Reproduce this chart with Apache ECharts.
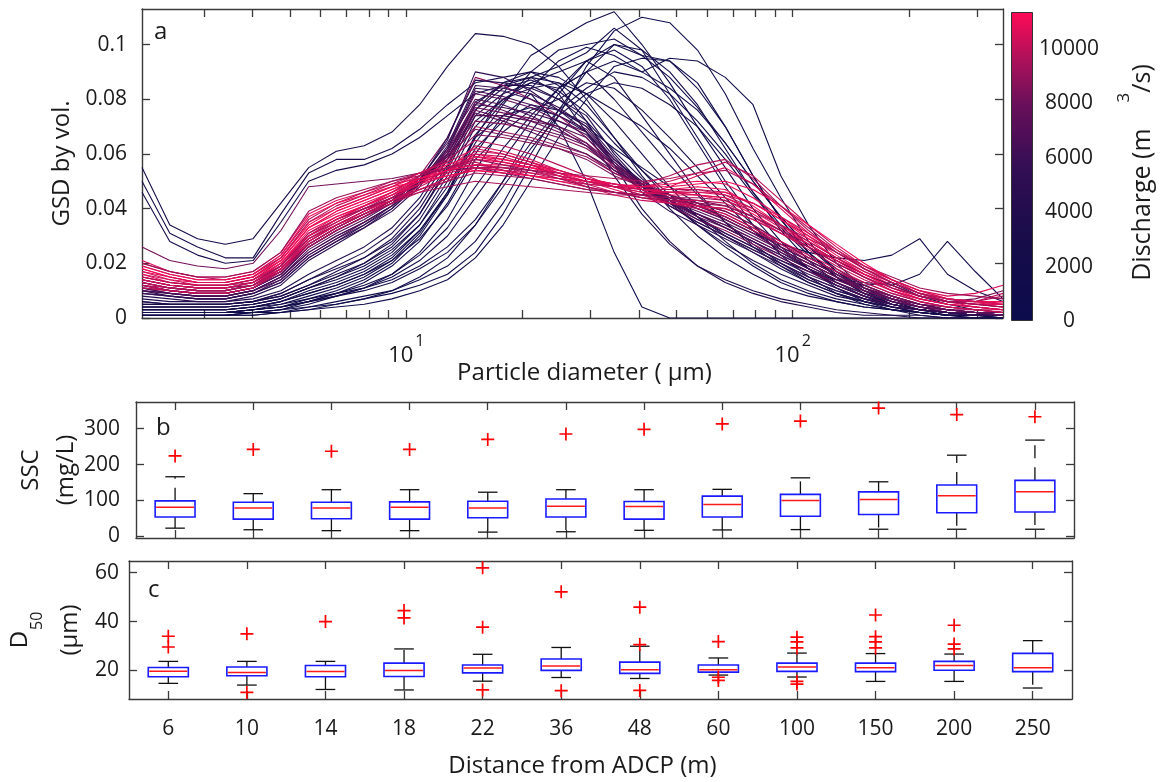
<!DOCTYPE html>
<html><head><meta charset="utf-8">
<script src="https://cdn.jsdelivr.net/npm/echarts@6/dist/echarts.min.js"></script>
<style>html,body{margin:0;padding:0;background:#fff}#chart{width:1161px;height:782px}</style>
</head><body><div id="chart"></div>
<script>
// ---------- data ----------
const sizes = [2.07,2.443,2.882,3.401,4.013,4.736,5.588,6.594,7.781,9.181,10.83,12.78,15.09,17.80,21.01,24.79,29.25,34.51,40.72,48.05,56.70,66.91,78.95,93.16,109.9,129.7,153.1,180.6,213.1,251.5,296.8,350.2];
const sizeTicks = [3,4,5,6,7,8,9,10,20,30,40,50,60,70,80,90,100,200,300];
const sizeLabels = [10,100];
const gsdTicks = [0,0.02,0.04,0.06,0.08,0.1];
const dischargeTicks = [0,2000,4000,6000,8000,10000];
const dischargeMax = 11360;

// high discharge (pink)
const gsdHigh = [
[.018,.015,.013,.013,.015,.022,.034,.040,.044,.048,.052,.056,.060,.058,.056,.053,.051,.049,.047,.046,.045,.043,.038,.032,.026,.020,.015,.010,.007,.005,.004,.003],
[.014,.012,.011,.011,.013,.020,.031,.037,.041,.045,.050,.054,.058,.057,.055,.052,.050,.048,.047,.047,.048,.047,.041,.034,.027,.021,.016,.012,.008,.006,.005,.006],
[.021,.017,.015,.015,.017,.024,.038,.043,.046,.049,.051,.053,.055,.054,.052,.050,.048,.046,.045,.048,.052,.055,.049,.040,.031,.024,.018,.014,.010,.008,.009,.012],
[.012,.010,.009,.009,.011,.018,.029,.035,.040,.044,.049,.054,.063,.061,.058,.054,.051,.048,.045,.043,.041,.038,.033,.028,.023,.018,.013,.009,.006,.004,.003,.002],
[.016,.014,.012,.012,.014,.021,.033,.039,.043,.047,.051,.055,.057,.054,.052,.051,.050,.049,.048,.050,.053,.057,.052,.043,.034,.026,.019,.014,.009,.006,.005,.004],
[.019,.016,.014,.014,.016,.022,.035,.041,.045,.049,.053,.058,.065,.063,.060,.056,.052,.048,.045,.042,.040,.037,.032,.027,.022,.017,.013,.009,.006,.004,.003,.003],
[.013,.011,.010,.010,.012,.019,.030,.036,.040,.043,.046,.048,.050,.049,.048,.047,.046,.045,.045,.046,.047,.046,.042,.036,.030,.024,.018,.013,.009,.006,.006,.008],
[.015,.013,.012,.012,.014,.020,.032,.037,.041,.045,.049,.052,.054,.053,.052,.050,.049,.048,.048,.049,.050,.049,.044,.037,.030,.023,.017,.012,.008,.006,.005,.004],
[.017,.014,.013,.013,.015,.021,.033,.038,.042,.046,.050,.054,.059,.057,.055,.053,.050,.047,.044,.042,.041,.040,.036,.031,.026,.021,.016,.012,.008,.006,.004,.003],
[.026,.021,.019,.018,.020,.032,.048,.049,.050,.051,.053,.054,.055,.053,.051,.049,.047,.046,.045,.044,.043,.041,.037,.032,.027,.021,.016,.012,.008,.006,.007,.010],
[.011,.010,.009,.009,.011,.017,.028,.034,.039,.044,.049,.054,.061,.060,.057,.053,.049,.046,.044,.043,.043,.042,.037,.031,.025,.019,.014,.010,.006,.004,.003,.002],
[.020,.017,.015,.014,.016,.023,.036,.042,.046,.050,.053,.055,.056,.055,.053,.051,.049,.048,.049,.052,.056,.058,.051,.041,.032,.024,.018,.013,.009,.007,.006,.005],
[.014,.012,.011,.011,.013,.019,.031,.036,.040,.044,.047,.050,.053,.052,.051,.049,.047,.046,.045,.044,.044,.043,.039,.034,.029,.024,.019,.015,.011,.009,.008,.007],
[.018,.015,.013,.013,.015,.021,.033,.039,.043,.047,.051,.054,.056,.056,.055,.053,.051,.049,.047,.046,.046,.046,.042,.036,.029,.022,.016,.011,.007,.005,.004,.003],
[.016,.013,.012,.012,.014,.020,.030,.036,.041,.046,.051,.055,.059,.058,.056,.054,.051,.048,.046,.045,.045,.044,.040,.034,.028,.022,.016,.011,.008,.006,.005,.005],
[.013,.011,.010,.010,.012,.018,.027,.033,.038,.043,.048,.053,.060,.059,.056,.052,.048,.045,.043,.042,.041,.040,.036,.031,.026,.020,.015,.010,.007,.005,.004,.003],
[.019,.016,.014,.014,.016,.023,.037,.042,.045,.048,.050,.052,.054,.053,.052,.051,.050,.049,.048,.048,.049,.050,.047,.041,.034,.027,.020,.014,.010,.007,.006,.006],
[.015,.013,.012,.012,.014,.019,.029,.034,.038,.042,.046,.050,.056,.055,.054,.052,.050,.048,.047,.047,.047,.045,.040,.034,.028,.022,.017,.013,.009,.007,.006,.009],
[.017,.015,.013,.013,.015,.022,.035,.040,.044,.048,.053,.057,.062,.060,.057,.054,.051,.049,.047,.046,.045,.044,.039,.033,.027,.021,.015,.010,.007,.005,.004,.003],
[.012,.011,.010,.010,.012,.017,.026,.032,.037,.042,.047,.051,.055,.055,.054,.053,.052,.051,.050,.051,.053,.054,.049,.041,.033,.025,.018,.013,.009,.006,.005,.004],
[.020,.017,.015,.015,.017,.024,.039,.044,.047,.050,.052,.055,.058,.056,.054,.051,.048,.046,.044,.043,.042,.041,.037,.032,.026,.020,.015,.011,.008,.006,.005,.004],
[.014,.012,.011,.011,.013,.018,.028,.034,.039,.043,.047,.051,.055,.054,.053,.052,.050,.048,.046,.046,.046,.045,.042,.037,.031,.025,.019,.014,.010,.007,.006,.005]
];
const dischargeHigh = [11200,10900,10600,10300,10000,9800,9500,11000,10700,8200,10100,9700,9300,11300,10800,10200,11100,9900,10500,9600,9200,10400];

// intermediate discharge (purple)
const gsdMid = [
[.012,.010,.009,.009,.011,.016,.026,.032,.037,.043,.052,.066,.088,.085,.080,.074,.066,.055,.047,.041,.036,.032,.027,.022,.017,.013,.009,.006,.004,.002,.002,.001],
[.010,.009,.008,.008,.010,.015,.024,.030,.035,.041,.050,.062,.082,.080,.077,.072,.068,.057,.048,.042,.037,.033,.028,.023,.018,.013,.009,.006,.004,.003,.002,.001],
[.014,.012,.011,.011,.012,.018,.029,.034,.039,.044,.051,.060,.077,.075,.073,.070,.064,.054,.047,.042,.038,.034,.029,.024,.019,.014,.010,.007,.004,.003,.002,.002],
[.009,.008,.007,.007,.009,.014,.023,.029,.034,.040,.049,.063,.085,.084,.082,.077,.070,.058,.049,.042,.036,.031,.026,.021,.016,.012,.008,.005,.003,.002,.001,.001],
[.013,.011,.010,.010,.012,.017,.027,.033,.038,.043,.050,.059,.072,.071,.069,.066,.062,.055,.049,.044,.040,.036,.031,.025,.020,.015,.011,.007,.005,.003,.002,.002],
[.011,.009,.008,.008,.010,.015,.025,.031,.036,.042,.051,.064,.080,.078,.074,.069,.063,.054,.048,.043,.039,.035,.030,.025,.020,.015,.010,.007,.004,.003,.002,.001],
[.015,.013,.012,.012,.013,.019,.030,.035,.040,.045,.051,.058,.070,.068,.066,.063,.060,.053,.048,.044,.041,.038,.033,.027,.021,.016,.011,.008,.005,.003,.003,.002],
[.010,.008,.007,.007,.009,.013,.022,.028,.034,.041,.050,.065,.090,.088,.083,.076,.068,.056,.046,.039,.034,.029,.024,.019,.014,.010,.007,.004,.003,.002,.001,.001],
[.012,.010,.009,.009,.011,.016,.026,.032,.037,.042,.049,.058,.074,.074,.072,.070,.066,.056,.048,.042,.038,.034,.029,.024,.019,.014,.010,.007,.004,.003,.002,.001],
[.013,.011,.010,.010,.012,.018,.028,.034,.039,.044,.050,.057,.067,.066,.064,.062,.059,.053,.049,.045,.042,.039,.034,.028,.022,.017,.012,.008,.005,.004,.003,.002],
[.008,.007,.006,.006,.008,.012,.021,.027,.033,.040,.050,.066,.087,.086,.084,.080,.074,.060,.049,.041,.035,.030,.025,.020,.015,.011,.007,.005,.003,.002,.001,.001],
[.011,.009,.008,.008,.010,.015,.024,.030,.035,.041,.049,.060,.078,.077,.075,.072,.067,.057,.049,.043,.038,.033,.028,.023,.018,.013,.009,.006,.004,.002,.002,.001],
[.012,.010,.009,.009,.011,.017,.027,.033,.038,.043,.050,.060,.076,.073,.070,.067,.063,.056,.050,.045,.041,.037,.032,.026,.021,.016,.011,.008,.005,.003,.002,.002],
[.010,.009,.008,.008,.010,.014,.023,.029,.035,.041,.049,.061,.083,.081,.078,.074,.069,.058,.049,.043,.038,.033,.028,.022,.017,.012,.008,.005,.003,.002,.001,.001],
[.014,.012,.011,.011,.013,.019,.030,.036,.041,.046,.052,.059,.069,.067,.065,.062,.058,.052,.048,.045,.042,.039,.034,.028,.022,.017,.012,.008,.005,.004,.003,.002],
[.009,.008,.007,.007,.009,.013,.022,.028,.033,.039,.048,.062,.084,.083,.080,.076,.071,.059,.048,.041,.035,.030,.025,.020,.015,.011,.007,.005,.003,.002,.001,.001],
[.011,.010,.009,.009,.011,.016,.026,.032,.037,.042,.049,.059,.075,.072,.068,.064,.060,.054,.049,.045,.041,.037,.032,.026,.021,.016,.011,.007,.005,.003,.002,.002],
[.013,.011,.010,.010,.012,.017,.027,.033,.038,.043,.050,.061,.079,.076,.072,.068,.064,.056,.049,.044,.040,.036,.031,.025,.020,.015,.010,.007,.004,.003,.002,.001]
];
const dischargeMid = [8800,7500,8200,6000,8500,6800,9000,5000,7000,8700,4500,6300,7800,6600,8400,5600,7200,7900];

// low discharge (navy)
const gsdLow = [
[.055,.034,.029,.027,.029,.042,.055,.061,.063,.068,.078,.092,.104,.103,.100,.092,.080,.066,.052,.040,.030,.022,.016,.011,.008,.006,.004,.003,.002,.001,.001,.001],
[.050,.031,.026,.022,.022,.038,.053,.058,.058,.062,.069,.078,.086,.088,.090,.088,.082,.072,.060,.048,.037,.028,.020,.014,.010,.007,.005,.003,.002,.001,.001,.001],
[.046,.028,.023,.020,.021,.035,.050,.054,.056,.060,.066,.074,.082,.085,.088,.086,.078,.066,.054,.043,.034,.026,.019,.013,.009,.006,.004,.003,.002,.001,.001,.000],
[.002,.002,.002,.002,.003,.004,.007,.010,.014,.020,.030,.045,.066,.082,.096,.102,.108,.112,.100,.086,.070,.055,.040,.028,.018,.011,.006,.003,.001,.000,.000,.000],
[.003,.003,.003,.003,.004,.006,.009,.012,.016,.022,.032,.046,.064,.078,.090,.098,.100,.102,.096,.094,.084,.070,.052,.036,.024,.015,.009,.005,.003,.002,.001,.001],
[.001,.001,.001,.001,.002,.003,.005,.008,.011,.016,.024,.036,.054,.070,.084,.094,.099,.096,.090,.095,.094,.088,.078,.052,.034,.020,.011,.006,.003,.001,.000,.000],
[.001,.001,.001,.001,.002,.003,.006,.009,.013,.019,.028,.042,.060,.074,.082,.070,.050,.024,.004,.000,.000,.000,.000,.000,.000,.000,.000,.000,.000,.000,.000,.000],
[.004,.004,.004,.004,.005,.007,.011,.014,.018,.024,.034,.050,.070,.080,.086,.090,.094,.088,.074,.060,.046,.035,.026,.019,.013,.009,.006,.004,.003,.002,.001,.001],
[.006,.005,.005,.005,.006,.009,.014,.018,.022,.028,.038,.054,.074,.082,.086,.084,.090,.080,.068,.056,.045,.035,.027,.020,.014,.010,.007,.004,.003,.002,.001,.001],
[.002,.002,.002,.002,.003,.005,.008,.011,.015,.021,.031,.046,.067,.079,.088,.092,.097,.106,.098,.082,.066,.050,.037,.026,.018,.012,.008,.005,.003,.002,.001,.001],
[.005,.005,.005,.005,.006,.008,.012,.016,.020,.026,.036,.052,.072,.080,.084,.086,.082,.076,.070,.062,.052,.042,.032,.024,.018,.014,.012,.013,.008,.005,.003,.002],
[.003,.003,.003,.003,.004,.006,.010,.013,.017,.023,.032,.045,.062,.072,.078,.076,.070,.062,.055,.048,.042,.036,.031,.027,.024,.022,.021,.023,.029,.016,.010,.006],
[.004,.004,.004,.004,.005,.007,.011,.015,.019,.025,.034,.048,.066,.074,.077,.074,.068,.058,.050,.043,.037,.031,.026,.021,.017,.014,.013,.012,.016,.028,.017,.007],
[.001,.001,.001,.001,.001,.002,.003,.004,.005,.007,.010,.014,.022,.034,.050,.066,.080,.092,.095,.094,.086,.070,.052,.036,.024,.015,.009,.005,.003,.002,.001,.001],
[.002,.002,.002,.002,.002,.003,.004,.006,.008,.010,.014,.019,.028,.042,.060,.076,.090,.100,.098,.090,.078,.062,.046,.032,.021,.013,.008,.004,.002,.001,.001,.000],
[.001,.001,.001,.001,.002,.002,.004,.005,.007,.009,.012,.016,.024,.038,.056,.074,.092,.105,.110,.108,.098,.082,.062,.044,.028,.017,.010,.005,.003,.001,.001,.000],
[.003,.003,.003,.003,.004,.005,.007,.009,.011,.014,.019,.026,.036,.050,.064,.076,.084,.090,.088,.082,.072,.060,.046,.034,.024,.016,.010,.006,.003,.002,.001,.001],
[.002,.002,.002,.002,.003,.004,.006,.008,.010,.013,.018,.024,.034,.048,.062,.074,.082,.086,.084,.078,.070,.058,.045,.033,.023,.015,.009,.005,.003,.002,.001,.001],
[.004,.004,.004,.004,.005,.007,.011,.015,.020,.027,.038,.055,.076,.086,.090,.085,.072,.056,.040,.028,.019,.013,.009,.006,.004,.002,.001,.001,.000,.000,.000,.000],
[.006,.005,.005,.005,.006,.009,.014,.019,.024,.031,.042,.058,.078,.086,.088,.082,.068,.052,.038,.027,.019,.014,.010,.007,.005,.003,.002,.001,.001,.000,.000,.000],
[.003,.003,.003,.003,.004,.006,.009,.012,.016,.021,.029,.041,.058,.068,.076,.080,.086,.084,.076,.066,.055,.044,.034,.025,.018,.012,.008,.005,.003,.002,.001,.001],
[.001,.001,.001,.001,.001,.002,.003,.005,.007,.010,.015,.022,.034,.050,.068,.082,.094,.098,.092,.080,.064,.048,.034,.023,.015,.009,.005,.003,.002,.001,.000,.000],
[.005,.005,.005,.005,.006,.008,.012,.017,.022,.029,.040,.056,.076,.084,.087,.083,.075,.064,.054,.045,.037,.030,.024,.018,.013,.009,.006,.004,.002,.001,.001,.001],
[.002,.002,.002,.002,.003,.004,.006,.009,.012,.016,.023,.033,.048,.062,.074,.084,.090,.094,.090,.084,.076,.064,.050,.037,.026,.017,.011,.007,.004,.002,.001,.001],
[.007,.006,.006,.006,.007,.010,.016,.021,.026,.033,.044,.060,.079,.085,.085,.080,.072,.061,.051,.042,.034,.027,.021,.016,.012,.008,.006,.004,.002,.001,.001,.001],
[.002,.002,.002,.002,.003,.004,.006,.008,.011,.015,.021,.030,.044,.058,.072,.084,.094,.100,.096,.088,.077,.064,.050,.037,.026,.018,.012,.008,.005,.003,.002,.001]
];
const dischargeLow = [2500,3000,2000,800,1500,1000,600,2200,3200,1200,2800,1800,1400,700,900,500,1600,2400,3500,3800,2600,1100,3300,1300,3700,1900];

const distances = ['6','10','14','18','22','36','48','60','100','150','200','250'];

const sscLow    = [23,18.5,16,16,12,13,17,18,19,20,20,20];
const sscQ1     = [54,48,49,48,52,54,48,54,56,61,66,68];
const sscMedian = [81,79,79,81,79,84,83,89,100,103,113,124];
const sscQ3     = [99,95,95,96,98,104,97,112,117,124,143,156];
const sscHigh   = [166,119,130,130,123,130,130,131,163,152,226,268];
const sscOutliers = [[0,224],[1,242],[2,237],[3,242],[4,270],[5,285],[6,298],[7,313],[8,321],[9,357],[10,339],[11,333]];
const sscTicks = [0,100,200,300];

const d50Low    = [14.7,14.0,12.2,12.0,15.6,17.1,16.7,18.1,17.3,15.5,15.5,12.8];
const d50Q1     = [17.4,17.8,17.4,17.5,19.0,20.0,18.8,19.3,19.6,19.5,20.1,19.5];
const d50Median = [19.7,19.2,19.6,20.0,21.0,21.8,20.3,20.3,21.4,21.1,22.0,21.1];
const d50Q3     = [21.2,21.4,22.0,23.0,22.2,24.7,23.4,22.2,23.0,23.0,23.7,27.0];
const d50High   = [23.7,23.7,23.7,28.8,26.6,29.4,29.9,25.1,27.1,26.9,26.7,32.2];
const d50Outliers = [[0,34],[0,29.6],[1,35],[1,11],[2,40],[3,44.5],[3,41.5],[4,62],[4,37.7],[4,12],[5,52.2],[5,11.7],
  [6,45.9],[6,30.6],[6,11.8],[7,31.8],[7,17.2],[7,15.9],[8,33.6],[8,31.7],[8,29.2],[8,15.5],[8,14.4],
  [9,42.7],[9,33.8],[9,31.7],[9,29.2],[10,38.5],[10,30.8],[10,28.8]];
const d50Ticks = [20,40,60];

// ---------- styling helpers ----------
const FONT = 'Open Sans';
const TXT = '#1a1a1a';
const AX = '#3a3a3a';
const FS = 21;   // tick labels
const FN = 24;   // axis titles

const cmapStops = [[0,[12,12,76]],[0.25,[22,12,74]],[0.5,[52,14,84]],[0.7,[105,15,90]],[0.85,[175,17,90]],[1,[255,10,86]]];
function cmap(t){
  t = Math.max(0, Math.min(1, t));
  for (let i = 1; i < cmapStops.length; i++) {
    const a = cmapStops[i-1], b = cmapStops[i];
    if (t <= b[0]) {
      const f = (t - a[0]) / (b[0] - a[0]);
      const c = a[1].map((v, j) => Math.round(v + (b[1][j] - v) * f));
      return 'rgb(' + c.join(',') + ')';
    }
  }
  return 'rgb(' + cmapStops[cmapStops.length-1][1].join(',') + ')';
}

const lineAx = {show:true, onZero:false, lineStyle:{color:AX, width:1.4}};
const tickSt = {color:AX, width:1.3};
const lblSt = {fontFamily:FONT, fontSize:FS, color:TXT};
const nameSt = {fontFamily:FONT, fontSize:FN, color:TXT};

function logAxis(pos, withLabel){
  const ax = {type:'log', logBase:10, gridIndex:0, min:sizes[0], max:sizes[sizes.length-1], position:pos,
    axisLine:lineAx, splitLine:{show:false}, minorTick:{show:false},
    axisTick:{show:true, inside:true, length:8, customValues:sizeTicks, lineStyle:tickSt},
    axisLabel:{show:false}};
  if (withLabel) {
    ax.axisLabel = {show:true, customValues:sizeLabels, margin:15,
      formatter: v => '{b|10}{s|' + Math.round(Math.log10(v)) + '}',
      rich:{b:{fontFamily:FONT, fontSize:22, color:TXT, lineHeight:34, verticalAlign:'bottom'},
            s:{fontFamily:FONT, fontSize:16, color:TXT, lineHeight:15, verticalAlign:'top', padding:[0,0,0,2]}}};
    ax.name = 'Particle diameter ( μm)';
    ax.nameLocation = 'middle';
    ax.nameGap = 43;
    ax.nameMoveOverlap = false;
    ax.nameTextStyle = Object.assign({padding:[0,0,0,24]}, nameSt);
  }
  return ax;
}
function catAxis(grid, pos, withLabel){
  const ax = {type:'category', gridIndex:grid, data:distances, position:pos, boundaryGap:true,
    axisLine:lineAx, splitLine:{show:false},
    axisTick:{show:true, inside:true, length:8, alignWithLabel:true, interval:0, lineStyle:tickSt},
    axisLabel:{show:false}};
  if (withLabel) {
    ax.axisLabel = Object.assign({show:true, interval:0, margin:20}, lblSt);
    ax.name = 'Distance from ADCP (m)';
    ax.nameLocation = 'middle';
    ax.nameGap = 55;
    ax.nameMoveOverlap = false;
    ax.nameTextStyle = Object.assign({padding:[0,36,0,0]}, nameSt);
  }
  return ax;
}
function valAxis(grid, pos, min, max, ticks, withLabel, margin){
  return {type:'value', gridIndex:grid, position:pos, min:min, max:max,
    axisLine:lineAx, splitLine:{show:false},
    axisTick:{show:true, inside:true, length:8, customValues:ticks, lineStyle:tickSt},
    axisLabel: withLabel ? Object.assign({show:true, customValues:ticks, margin:margin}, lblSt) : {show:false}};
}

// ---------- series ----------
const series = [];
function addLines(group, q){
  group.forEach((vals, i) => {
    series.push({type:'line', xAxisIndex:0, yAxisIndex:0, showSymbol:false, symbol:'none', silent:true,
      clip:true, z:2,
      lineStyle:{width:1.1, color:cmap(q[i] / dischargeMax)},
      data: sizes.map((d, k) => [d, vals[k]])});
  });
}
addLines(gsdLow, dischargeLow);
addLines(gsdMid, dischargeMid);
addLines(gsdHigh, dischargeHigh);

// colour bar
series.push({type:'bar', xAxisIndex:2, yAxisIndex:2, data:[dischargeMax], barWidth:'100%', silent:true,
  itemStyle:{borderColor:'#333', borderWidth:1,
    color:new echarts.graphic.LinearGradient(0,1,0,0, cmapStops.map(s => ({offset:s[0], color:'rgb(' + s[1].join(',') + ')'})))}});

function boxSeries(xi, yi, low, q1, med, q3, high){
  return {type:'custom', xAxisIndex:xi, yAxisIndex:yi, silent:true, z:3,
    encode:{x:0, y:[1,2,3,4,5]},
    data: distances.map((d, i) => [i, low[i], q1[i], med[i], q3[i], high[i]]),
    renderItem(params, api){
      const i = api.value(0);
      const pL = api.coord([i, api.value(1)]);
      const p1 = api.coord([i, api.value(2)]);
      const pM = api.coord([i, api.value(3)]);
      const p3 = api.coord([i, api.value(4)]);
      const pH = api.coord([i, api.value(5)]);
      const cell = api.size([1, 0])[0];
      const bw = cell * 0.51, cw = cell * 0.25, x = pM[0];
      const wsk = {stroke:'#111', lineWidth:1.3, lineDash:[13,9]};
      const cap = {stroke:'#111', lineWidth:1.3};
      return {type:'group', children:[
        {type:'line', shape:{x1:x, y1:p3[1], x2:x, y2:pH[1]}, style:wsk},
        {type:'line', shape:{x1:x, y1:p1[1], x2:x, y2:pL[1]}, style:wsk},
        {type:'line', shape:{x1:x-cw/2, y1:pH[1], x2:x+cw/2, y2:pH[1]}, style:cap},
        {type:'line', shape:{x1:x-cw/2, y1:pL[1], x2:x+cw/2, y2:pL[1]}, style:cap},
        {type:'rect', shape:{x:x-bw/2, y:p3[1], width:bw, height:p1[1]-p3[1]}, style:{fill:'none', stroke:'#1a1aff', lineWidth:1.6}},
        {type:'line', shape:{x1:x-bw/2+1, y1:pM[1], x2:x+bw/2-1, y2:pM[1]}, style:{stroke:'#ff1a1a', lineWidth:1.5}}
      ]};
    }};
}
function outlierSeries(xi, yi, pts){
  return {type:'scatter', xAxisIndex:xi, yAxisIndex:yi, silent:true, z:4,
    symbol:'path://M0,5L10,5M5,0L5,10', symbolSize:13,
    itemStyle:{color:'rgba(0,0,0,0)', borderColor:'#ff0000', borderWidth:1.7, opacity:1},
    data: pts.map(p => [p[0], p[1]])};
}
series.push(boxSeries(3, 3, sscLow, sscQ1, sscMedian, sscQ3, sscHigh));
series.push(outlierSeries(3, 3, sscOutliers));
series.push(boxSeries(5, 5, d50Low, d50Q1, d50Median, d50Q3, d50High));
series.push(outlierSeries(5, 5, d50Outliers));

// ---------- option ----------
const panelTitle = (t, l, tp) => ({text:t, left:l, top:tp, padding:0,
  textStyle:{fontFamily:FONT, fontSize:24, fontWeight:'normal', color:TXT}});

const option = {
  animation:false,
  backgroundColor:'#fff',
  textStyle:{fontFamily:FONT},
  title:[panelTitle('a', 154, 20), panelTitle('b', 156, 416), panelTitle('c', 148, 578)],
  grid:[
    {left:142, top:9, width:861, height:309},
    {left:1011, top:12, width:22, height:309},
    {left:136, top:402, width:938, height:136},
    {left:129, top:561, width:943, height:138}
  ],
  xAxis:[
    logAxis('bottom', true),
    logAxis('top', false),
    {type:'category', gridIndex:1, data:['cb'], show:false, boundaryGap:true},
    catAxis(2, 'bottom', false),
    catAxis(2, 'top', false),
    catAxis(3, 'bottom', true),
    catAxis(3, 'top', false)
  ],
  yAxis:[
    Object.assign(valAxis(0, 'left', 0, 0.113, gsdTicks, true, 15),
      {name:'GSD by vol.', nameLocation:'middle', nameGap:68, nameMoveOverlap:false, nameTextStyle:nameSt}),
    valAxis(0, 'right', 0, 0.113, gsdTicks, false),
    {type:'value', gridIndex:1, position:'right', min:0, max:dischargeMax,
      axisLine:{show:false}, splitLine:{show:false}, axisTick:{show:false},
      axisLabel:Object.assign({show:true, customValues:dischargeTicks, margin:36, align:'center',
        formatter: v => String(v)}, lblSt),
      name:'{a|Discharge (m}{s|3}{a|/s)}', nameLocation:'middle', nameGap:83, nameRotate:90, nameMoveOverlap:false,
      nameTextStyle:{padding:[0,12,0,0],
        rich:{a:{fontFamily:FONT, fontSize:25, color:TXT, lineHeight:39, verticalAlign:'bottom'},
              s:{fontFamily:FONT, fontSize:17, color:TXT, lineHeight:17, verticalAlign:'top', padding:[0,0,0,26]}}}},
    Object.assign(valAxis(2, 'left', -4.4, 374, sscTicks, true, 16),
      {name:'SSC\n(mg/L)', nameLocation:'middle', nameGap:52, nameMoveOverlap:false,
       nameTextStyle:Object.assign({lineHeight:35}, nameSt)}),
    valAxis(2, 'right', -4.4, 374, sscTicks, false),
    Object.assign(valAxis(3, 'left', 8.3, 64.8, d50Ticks, true, 10),
      {name:'{a|D}{u|50}\n{a|(μm)}', nameLocation:'middle', nameGap:34, nameMoveOverlap:false,
       nameTextStyle:{rich:{a:{fontFamily:FONT, fontSize:FN, color:TXT, lineHeight:50},
                            u:{fontFamily:FONT, fontSize:16, color:TXT, lineHeight:16, verticalAlign:'bottom', padding:[0,0,0,1]}}}}),
    valAxis(3, 'right', 8.3, 64.8, d50Ticks, false)
  ],
  series: series
};

const chart = echarts.init(document.getElementById('chart'), null, {renderer:'canvas'});
chart.setOption(option);
</script>
</body></html>
